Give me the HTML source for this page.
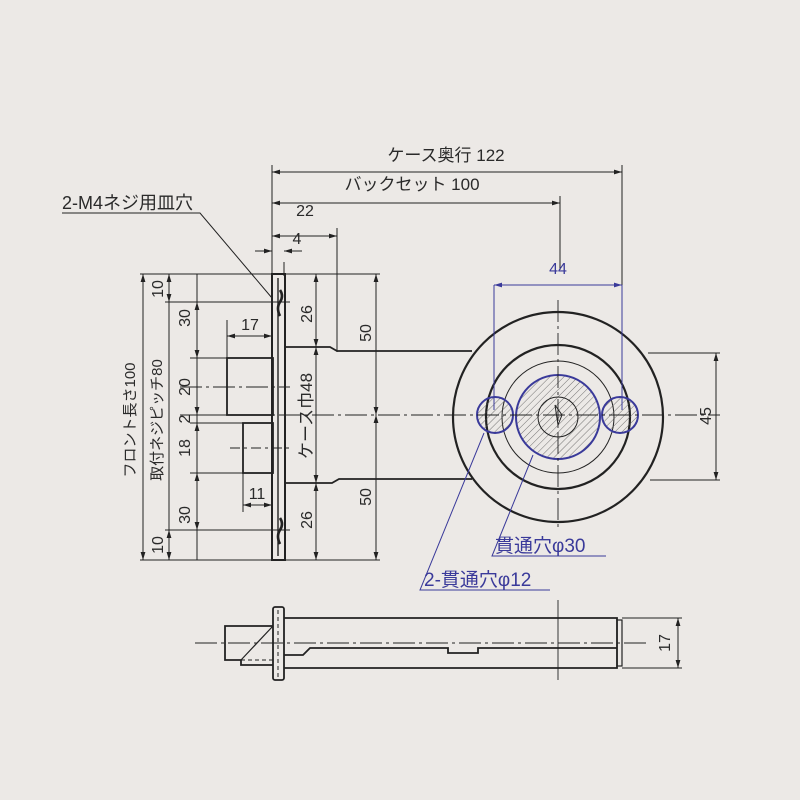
<!DOCTYPE html>
<html><head><meta charset="utf-8"><style>
html,body{margin:0;padding:0;background:#ece9e6;}
svg{display:block;font-family:"Liberation Sans","Noto Sans CJK JP",sans-serif;}
</style></head><body>
<svg width="800" height="800" viewBox="0 0 800 800" xmlns="http://www.w3.org/2000/svg">
<defs>
<marker id="a" viewBox="0 0 10 6" refX="10" refY="3" markerWidth="8" markerHeight="5" orient="auto-start-reverse"><path d="M0,0 L10,3 L0,6z" fill="#222"/></marker>
<marker id="b" viewBox="0 0 10 6" refX="10" refY="3" markerWidth="8" markerHeight="5" orient="auto-start-reverse"><path d="M0,0 L10,3 L0,6z" fill="#3a3a9a"/></marker>
<pattern id="h" width="5" height="5" patternUnits="userSpaceOnUse" patternTransform="rotate(45)"><line x1="0" y1="0" x2="0" y2="5" stroke="#555" stroke-width="0.8"/></pattern>
</defs>
<rect width="800" height="800" fill="#ece9e6"/>
<g stroke="#222" fill="none" stroke-width="1">
<line x1="272" y1="165" x2="272" y2="276"/>
<line x1="622" y1="165" x2="622" y2="400"/>
<line x1="560" y1="196" x2="560" y2="270"/>
<line x1="337" y1="228" x2="337" y2="352"/>
<line x1="284" y1="262" x2="284" y2="276"/>
<line x1="272" y1="172" x2="622" y2="172" marker-start="url(#a)" marker-end="url(#a)"/>
<line x1="272" y1="203" x2="560" y2="203" marker-start="url(#a)" marker-end="url(#a)"/>
<line x1="272" y1="236" x2="337" y2="236" marker-start="url(#a)" marker-end="url(#a)"/>
<line x1="255" y1="251" x2="272" y2="251" marker-end="url(#a)"/>
<line x1="302" y1="251" x2="284" y2="251" marker-end="url(#a)"/>
<line x1="140" y1="274" x2="380" y2="274"/>
<line x1="140" y1="560" x2="380" y2="560"/>
<line x1="165" y1="302" x2="290" y2="302"/>
<line x1="165" y1="530" x2="290" y2="530"/>
<line x1="190" y1="358" x2="227" y2="358"/>
<line x1="190" y1="415" x2="227" y2="415"/>
<line x1="190" y1="423" x2="243" y2="423"/>
<line x1="190" y1="473" x2="243" y2="473"/>
<line x1="143" y1="274" x2="143" y2="560" marker-start="url(#a)" marker-end="url(#a)"/>
<line x1="169" y1="274" x2="169" y2="302" marker-start="url(#a)" marker-end="url(#a)"/>
<line x1="169" y1="530" x2="169" y2="560" marker-start="url(#a)" marker-end="url(#a)"/>
<line x1="169" y1="302" x2="169" y2="530"/>
<line x1="197" y1="274" x2="197" y2="560"/>
<line x1="197" y1="302" x2="197" y2="358" marker-start="url(#a)" marker-end="url(#a)"/>
<line x1="197" y1="358" x2="197" y2="415" marker-end="url(#a)"/>
<line x1="197" y1="423" x2="197" y2="473" marker-start="url(#a)"/>
<line x1="197" y1="473" x2="197" y2="530" marker-start="url(#a)" marker-end="url(#a)"/>
<line x1="316" y1="274" x2="316" y2="347" marker-start="url(#a)" marker-end="url(#a)"/>
<line x1="316" y1="347" x2="316" y2="483" marker-start="url(#a)" marker-end="url(#a)"/>
<line x1="316" y1="483" x2="316" y2="560" marker-start="url(#a)" marker-end="url(#a)"/>
<line x1="376" y1="274" x2="376" y2="415" marker-start="url(#a)" marker-end="url(#a)"/>
<line x1="376" y1="415" x2="376" y2="560" marker-start="url(#a)" marker-end="url(#a)"/>
<rect x="227" y="358" width="46" height="57" stroke-width="1.8"/>
<rect x="243" y="423" width="30" height="50" stroke-width="1.8"/>
<line x1="227" y1="320" x2="227" y2="358"/>
<line x1="227" y1="336" x2="272" y2="336" marker-start="url(#a)" marker-end="url(#a)"/>
<line x1="243" y1="473" x2="243" y2="512"/>
<line x1="243" y1="505" x2="272" y2="505" marker-start="url(#a)" marker-end="url(#a)"/>
<rect x="272" y="274" width="13" height="286" stroke-width="2"/>
<line x1="278" y1="278" x2="278" y2="556" stroke-width="1.4"/>
<path d="M280,290 q4,6 0,12 q-4,6 0,14" stroke-width="2.6"/>
<path d="M280,518 q4,6 0,12 q-4,6 0,14" stroke-width="2.6"/>
<path d="M285,347 L330,347 L337,351 L472,351" stroke-width="1.8"/>
<path d="M285,483 L332,483 L339,479 L472,479" stroke-width="1.8"/>
<circle cx="558" cy="417" r="105" stroke-width="2.2"/>
<circle cx="558" cy="417" r="72" stroke-width="2.2"/>
<circle cx="558" cy="417" r="56" stroke-width="1"/>
</g>
<g stroke="#3a3a9a" stroke-width="2">
<circle cx="558" cy="417" r="42" fill="url(#h)"/>
<circle cx="495" cy="415" r="18" fill="url(#h)"/>
<circle cx="620" cy="415" r="18" fill="url(#h)"/>
</g>
<g stroke="#222" fill="none">
<circle cx="558" cy="417" r="20" stroke-width="1"/>
<path d="M555,405 l3,20 l4,-10 z" stroke-width="1"/>
<line x1="180" y1="415" x2="720" y2="415" stroke-dasharray="22,4,3,4" stroke-width="0.9"/>
<line x1="558" y1="300" x2="558" y2="530" stroke-dasharray="22,4,3,4" stroke-width="0.9"/>
<line x1="180" y1="387" x2="290" y2="387" stroke-dasharray="22,4,3,4" stroke-width="0.9"/>
<line x1="230" y1="448" x2="290" y2="448" stroke-dasharray="10,4,3,4" stroke-width="0.9"/>
<line x1="648" y1="353" x2="720" y2="353"/>
<line x1="650" y1="480" x2="720" y2="480"/>
<line x1="716" y1="353" x2="716" y2="480" marker-start="url(#a)" marker-end="url(#a)"/>
<path d="M62,213 L200,213 L272,298"/>
</g>
<g stroke="#3a3a9a" fill="none" stroke-width="1">
<line x1="494" y1="285" x2="494" y2="410"/>
<line x1="622" y1="285" x2="622" y2="410"/>
<line x1="494" y1="285" x2="622" y2="285" marker-start="url(#b)" marker-end="url(#b)"/>
<path d="M533,455 L492,556 L606,556"/>
<path d="M484,433 L420,590 L550,590"/>
</g>
<g stroke="#222" fill="none" stroke-width="1.8">
<rect x="273" y="607" width="11" height="73" rx="2"/>
<line x1="278" y1="610" x2="278" y2="677" stroke-dasharray="4,3" stroke-width="1"/>
<path d="M284,618 L617,618 L617,668 L284,668"/>
<rect x="617" y="620" width="5" height="46" stroke-width="1.2"/>
<path d="M284,655 L303,655 L310,648 L448,648 L448,653 L478,653 L478,648 L617,648"/>
<path d="M273,626 L225,626 L225,660 L241,660 L241,665 L273,665"/>
<line x1="241" y1="660" x2="273" y2="626" stroke-width="1.2"/>
<line x1="241" y1="660" x2="273" y2="660" stroke-dasharray="4,3" stroke-width="1"/>
<line x1="195" y1="643" x2="650" y2="643" stroke-dasharray="22,4,3,4" stroke-width="0.9"/>
<line x1="558" y1="600" x2="558" y2="680" stroke-width="0.9"/>
<line x1="622" y1="618" x2="682" y2="618" stroke-width="1"/>
<line x1="622" y1="668" x2="682" y2="668" stroke-width="1"/>
<line x1="678" y1="618" x2="678" y2="668" stroke-width="1" marker-start="url(#a)" marker-end="url(#a)"/>
</g>
<g fill="#2a2a2a" font-size="16">
<text x="446" y="161" text-anchor="middle" font-size="17">ケース奥行 122</text>
<text x="412" y="190" text-anchor="middle" font-size="17">バックセット 100</text>
<text x="305" y="216" text-anchor="middle">22</text>
<text x="297" y="244" text-anchor="middle">4</text>
<text x="62" y="209" font-size="18">2-M4ネジ用皿穴</text>
<text x="250" y="330" text-anchor="middle">17</text>
<text x="257" y="499" text-anchor="middle">11</text>
<g text-anchor="middle">
<text transform="translate(163,289) rotate(-90)">10</text>
<text transform="translate(163,545) rotate(-90)">10</text>
<text transform="translate(190,318) rotate(-90)">30</text>
<text transform="translate(190,515) rotate(-90)">30</text>
<text transform="translate(190,387) rotate(-90)">20</text>
<text transform="translate(190,419) rotate(-90)">2</text>
<text transform="translate(190,448) rotate(-90)">18</text>
<text transform="translate(162,420) rotate(-90)" font-size="15">取付ネジピッチ80</text>
<text transform="translate(135,420) rotate(-90)" font-size="15">フロント長さ100</text>
<text transform="translate(312,314) rotate(-90)">26</text>
<text transform="translate(312,520) rotate(-90)">26</text>
<text transform="translate(312,416) rotate(-90)" font-size="17">ケース巾48</text>
<text transform="translate(371,333) rotate(-90)">50</text>
<text transform="translate(371,497) rotate(-90)">50</text>
<text transform="translate(711,416) rotate(-90)">45</text>
<text transform="translate(670,643) rotate(-90)">17</text>
</g>
</g>
<g fill="#3a3a9a" font-size="19">
<text x="558" y="274" text-anchor="middle" font-size="16">44</text>
<text x="495" y="552">貫通穴φ30</text>
<text x="424" y="586">2-貫通穴φ12</text>
</g>
</svg>
</body></html>
